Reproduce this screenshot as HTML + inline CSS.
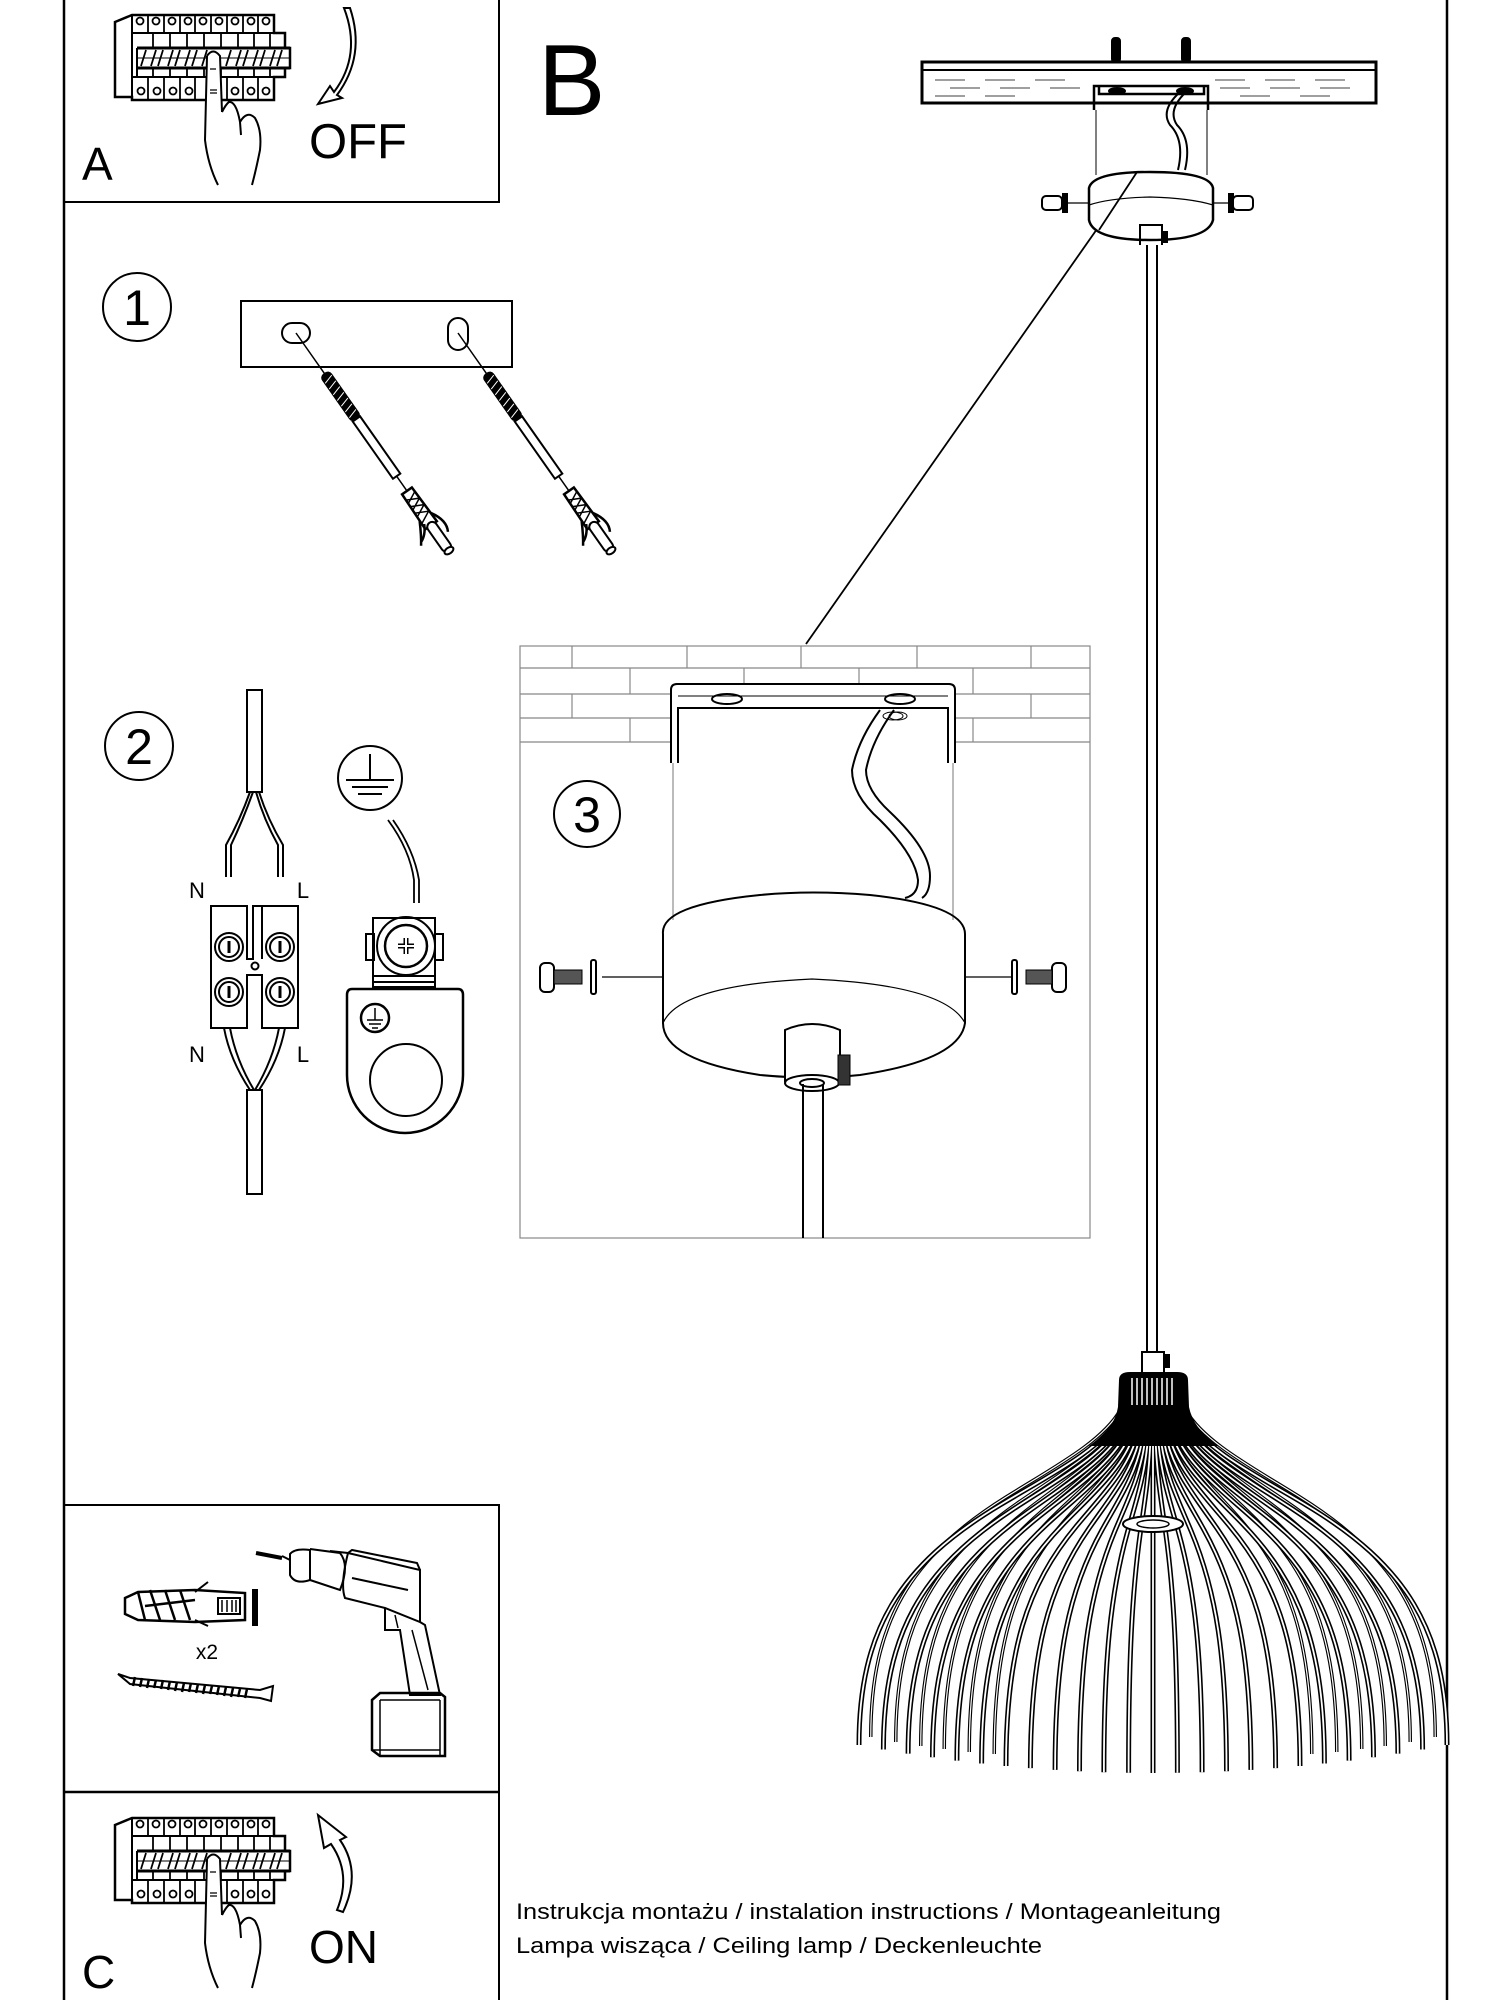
<!DOCTYPE html>
<html><head><meta charset="utf-8"><style>
html,body{margin:0;padding:0;background:#fff;}
svg{display:block;}
text{font-family:"Liberation Sans",Arial,sans-serif;fill:#000;}
</style></head><body>
<svg width="1500" height="2000" viewBox="0 0 1500 2000" xmlns="http://www.w3.org/2000/svg" fill="none" stroke="#000" stroke-width="2">
<defs>
<g id="brk">
  <path d="M115 22 L132 15 L274 15 L274 33 L285 33 L285 48 L290 48 L290 68 L285 68 L285 77 L274 77 L274 100 L132 100 L132 97 L115 97 Z" stroke-width="2.5"/>
  <line x1="132" y1="15" x2="132" y2="100"/>
  <line x1="132" y1="33" x2="274" y2="33"/>
  <line x1="132" y1="77" x2="274" y2="77"/>
  <line x1="137" y1="48" x2="290" y2="48" stroke-width="3"/>
  <line x1="137" y1="68" x2="290" y2="68" stroke-width="3"/>
  <line x1="137" y1="48" x2="137" y2="77"/>
  <g stroke-width="1.8">
   <line x1="148" y1="15" x2="148" y2="33"/><line x1="164" y1="15" x2="164" y2="33"/><line x1="180" y1="15" x2="180" y2="33"/><line x1="195" y1="15" x2="195" y2="33"/><line x1="211" y1="15" x2="211" y2="33"/><line x1="227" y1="15" x2="227" y2="33"/><line x1="243" y1="15" x2="243" y2="33"/><line x1="258" y1="15" x2="258" y2="33"/>
   <line x1="148" y1="77" x2="148" y2="100"/><line x1="164" y1="77" x2="164" y2="100"/><line x1="180" y1="77" x2="180" y2="100"/><line x1="195" y1="77" x2="195" y2="100"/><line x1="211" y1="77" x2="211" y2="100"/><line x1="227" y1="77" x2="227" y2="100"/><line x1="243" y1="77" x2="243" y2="100"/><line x1="258" y1="77" x2="258" y2="100"/>
   <line x1="153" y1="33" x2="153" y2="48"/><line x1="170" y1="33" x2="170" y2="48"/><line x1="187" y1="33" x2="187" y2="48"/><line x1="204" y1="33" x2="204" y2="48"/><line x1="221" y1="33" x2="221" y2="48"/><line x1="238" y1="33" x2="238" y2="48"/><line x1="254" y1="33" x2="254" y2="48"/><line x1="270" y1="33" x2="270" y2="48"/>
   <line x1="153" y1="68" x2="153" y2="77"/><line x1="170" y1="68" x2="170" y2="77"/><line x1="187" y1="68" x2="187" y2="77"/><line x1="204" y1="68" x2="204" y2="77"/><line x1="221" y1="68" x2="221" y2="77"/><line x1="238" y1="68" x2="238" y2="77"/><line x1="254" y1="68" x2="254" y2="77"/><line x1="270" y1="68" x2="270" y2="77"/>
   <path d="M141 66 L146 50 M151 66 L156 50 M158 66 L163 50 M168 66 L173 50 M175 66 L180 50 M185 66 L190 50 M192 66 L197 50 M202 66 L207 50 M226 66 L231 50 M236 66 L241 50 M243 66 L248 50 M253 66 L258 50 M260 66 L265 50 M270 66 L275 50 M277 66 L282 50"/>
   <line x1="137" y1="58" x2="290" y2="58" stroke-width="1"/>
  </g>
  <g stroke-width="1.8">
   <circle cx="140" cy="21" r="3.5"/><circle cx="156" cy="21" r="3.5"/><circle cx="172" cy="21" r="3.5"/><circle cx="188" cy="21" r="3.5"/><circle cx="203" cy="21" r="3.5"/><circle cx="219" cy="21" r="3.5"/><circle cx="235" cy="21" r="3.5"/><circle cx="251" cy="21" r="3.5"/><circle cx="266" cy="21" r="3.5"/>
   <circle cx="141" cy="91" r="3.5"/><circle cx="157" cy="91" r="3.5"/><circle cx="173" cy="91" r="3.5"/><circle cx="189" cy="91" r="3.5"/><circle cx="235" cy="91" r="3.5"/><circle cx="251" cy="91" r="3.5"/><circle cx="266" cy="91" r="3.5"/>
  </g>
  <path d="M207 56 L205 140 Q208 165 218 185 L252 185 Q256 170 260 150 Q262 130 255 118 Q247 110 240 122 Q236 100 228 102 L222 112 L220 56 Q213 47 207 56 Z" fill="#fff" stroke="none"/>
  <path d="M207 56 Q213 47 220 56 L222 112 M228 102 Q236 100 240 122 M240 122 Q247 110 255 118 Q262 130 260 150 Q256 170 252 185 M207 56 L205 140 Q208 165 218 185 M222 112 Q226 104 229 102 M240 122 L241 135" stroke-width="2"/>
  <path d="M210 69 L216 69 M210 90 L217 90 M210 93 L217 93" stroke-width="1.3"/>
</g>
<g id="dowel">
  <line x1="0" y1="0" x2="50" y2="0" stroke-width="1.5"/>
  <rect x="50" y="-5" width="55" height="10" rx="4" fill="#000"/>
  <path d="M55 -5 L58 5 M62 -5 L65 5 M69 -5 L72 5 M76 -5 L79 5 M83 -5 L86 5 M90 -5 L93 5 M97 -5 L100 5" stroke="#fff" stroke-width="1"/>
  <rect x="105" y="-4.5" width="70" height="9" fill="#fff" stroke-width="2"/>
  <line x1="175" y1="0" x2="193" y2="0" stroke-width="1.5"/>
  <path d="M193 -6 L235 -7 L235 7 L193 6 Z" fill="#fff" stroke-width="2.5"/>
  <path d="M198 -6 L204 6 M206 -6 L212 6 M214 -6 L220 6 M222 -6 L228 6 M200 6 L206 -6 M208 6 L214 -6 M216 6 L222 -6" stroke-width="1.5"/>
  <path d="M225 -7 Q240 -16 250 -10 M225 7 Q238 14 246 20 M230 5 Q240 10 243 18" stroke-width="2.5"/>
  <rect x="232" y="-5" width="34" height="10" rx="5" fill="#fff" stroke-width="2"/>
  <ellipse cx="266" cy="0" rx="3" ry="5" fill="#fff"/>
</g>
<path id="r" d="M1119 1418 C1100 1450 1050 1475 1000 1505 C900 1565 859 1630 859 1745" vector-effect="non-scaling-stroke"/>
<g id="ribs">
  <use href="#r" transform="translate(1153,0) scale(1,1) translate(-1153,0)"/>
  <use href="#r" transform="translate(1153,4.5) scale(0.917,1) translate(-1153,0)"/>
  <use href="#r" transform="translate(1153,8.6) scale(0.833,1) translate(-1153,0)"/>
  <use href="#r" transform="translate(1153,12.3) scale(0.75,1) translate(-1153,0)"/>
  <use href="#r" transform="translate(1153,15.6) scale(0.667,1) translate(-1153,0)"/>
  <use href="#r" transform="translate(1153,18.5) scale(0.583,1) translate(-1153,0)"/>
  <use href="#r" transform="translate(1153,21) scale(0.5,1) translate(-1153,0)"/>
  <use href="#r" transform="translate(1153,23.1) scale(0.417,1) translate(-1153,0)"/>
  <use href="#r" transform="translate(1153,24.9) scale(0.333,1) translate(-1153,0)"/>
  <use href="#r" transform="translate(1153,26.3) scale(0.25,1) translate(-1153,0)"/>
  <use href="#r" transform="translate(1153,27.2) scale(0.167,1) translate(-1153,0)"/>
  <use href="#r" transform="translate(1153,27.8) scale(0.083,1) translate(-1153,0)"/>
  <use href="#r" transform="translate(1153,4.5) scale(-0.917,1) translate(-1153,0)"/>
  <use href="#r" transform="translate(1153,0) scale(-1,1) translate(-1153,0)"/>
  <use href="#r" transform="translate(1153,8.6) scale(-0.833,1) translate(-1153,0)"/>
  <use href="#r" transform="translate(1153,12.3) scale(-0.75,1) translate(-1153,0)"/>
  <use href="#r" transform="translate(1153,15.6) scale(-0.667,1) translate(-1153,0)"/>
  <use href="#r" transform="translate(1153,18.5) scale(-0.583,1) translate(-1153,0)"/>
  <use href="#r" transform="translate(1153,21) scale(-0.5,1) translate(-1153,0)"/>
  <use href="#r" transform="translate(1153,23.1) scale(-0.417,1) translate(-1153,0)"/>
  <use href="#r" transform="translate(1153,24.9) scale(-0.333,1) translate(-1153,0)"/>
  <use href="#r" transform="translate(1153,26.3) scale(-0.25,1) translate(-1153,0)"/>
  <use href="#r" transform="translate(1153,27.2) scale(-0.167,1) translate(-1153,0)"/>
  <use href="#r" transform="translate(1153,27.8) scale(-0.083,1) translate(-1153,0)"/>
  <path d="M1153 1420 L1153 1773"/>
</g>
<g id="backribs">
  <use href="#r" transform="translate(1153,-8) scale(0.96,1) translate(-1153,0)"/>
  <use href="#r" transform="translate(1153,-3) scale(0.875,1) translate(-1153,0)"/>
  <use href="#r" transform="translate(1153,1) scale(0.79,1) translate(-1153,0)"/>
  <use href="#r" transform="translate(1153,4) scale(0.71,1) translate(-1153,0)"/>
  <use href="#r" transform="translate(1153,7) scale(0.625,1) translate(-1153,0)"/>
  <use href="#r" transform="translate(1153,9) scale(0.54,1) translate(-1153,0)"/>
  <use href="#r" transform="translate(1153,-8) scale(-0.96,1) translate(-1153,0)"/>
  <use href="#r" transform="translate(1153,-3) scale(-0.875,1) translate(-1153,0)"/>
  <use href="#r" transform="translate(1153,1) scale(-0.79,1) translate(-1153,0)"/>
  <use href="#r" transform="translate(1153,4) scale(-0.71,1) translate(-1153,0)"/>
  <use href="#r" transform="translate(1153,7) scale(-0.625,1) translate(-1153,0)"/>
  <use href="#r" transform="translate(1153,9) scale(-0.54,1) translate(-1153,0)"/>
</g>
</defs>

<line x1="64" y1="0" x2="64" y2="2000" stroke-width="2.5"/>
<line x1="1447" y1="0" x2="1447" y2="2000" stroke-width="2.5"/>
<path d="M64 202 L499 202 L499 0" stroke-width="2"/>
<path d="M64 1505 L499 1505 L499 2000" stroke-width="2"/>
<line x1="64" y1="1792" x2="499" y2="1792" stroke-width="2.5"/>

<use href="#brk"/>
<path d="M344 8 Q362 55 334 92 L330 86 L318 104 L342 98 L337 95 Q366 56 350 8 Z" fill="#fff" stroke-width="2"/>
<text x="82" y="180" font-size="46" stroke="none">A</text>
<text x="309" y="158" font-size="49" stroke="none">OFF</text>
<text x="538" y="115" font-size="101" stroke="none">B</text>

<circle cx="137" cy="307" r="34" stroke-width="2"/>
<text x="137" y="325" font-size="50" text-anchor="middle" stroke="none">1</text>
<rect x="241" y="301" width="271" height="66" stroke-width="2"/>
<rect x="282" y="323" width="28" height="20" rx="10"/>
<rect x="448" y="318" width="20" height="32" rx="10"/>
<use href="#dowel" transform="translate(296,333) rotate(54.9)"/>
<use href="#dowel" transform="translate(458,333) rotate(54.9)"/>

<circle cx="139" cy="746" r="34" stroke-width="2"/>
<text x="139" y="764" font-size="50" text-anchor="middle" stroke="none">2</text>
<rect x="247" y="690" width="15" height="102" stroke-width="2"/>
<path d="M250 792 Q240 820 226 845 L226 877 M259 792 Q268 820 283 845 L283 877 M253 792 Q243 820 231 845 L231 877 M256 792 Q264 820 278 845 L278 877" stroke-width="2"/>
<text x="197" y="898" font-size="22" text-anchor="middle" stroke="none">N</text>
<text x="303" y="898" font-size="22" text-anchor="middle" stroke="none">L</text>
<path d="M211 906 L247 906 L247 959 L253 959 L253 906 L298 906 L298 1028 L262 1028 L262 975 L247 975 L247 1028 L211 1028 Z" stroke-width="2"/>
<line x1="247" y1="906" x2="247" y2="959"/><line x1="262" y1="906" x2="262" y2="959"/>
<circle cx="255" cy="966" r="3.5"/>
<g stroke-width="2">
<circle cx="229" cy="947" r="14"/><circle cx="229" cy="947" r="10"/><line x1="229" y1="941" x2="229" y2="953" stroke-width="3"/>
<circle cx="280" cy="947" r="14"/><circle cx="280" cy="947" r="10"/><line x1="280" y1="941" x2="280" y2="953" stroke-width="3"/>
<circle cx="229" cy="992" r="14"/><circle cx="229" cy="992" r="10"/><line x1="229" y1="986" x2="229" y2="998" stroke-width="3"/>
<circle cx="280" cy="992" r="14"/><circle cx="280" cy="992" r="10"/><line x1="280" y1="986" x2="280" y2="998" stroke-width="3"/>
</g>
<text x="197" y="1062" font-size="22" text-anchor="middle" stroke="none">N</text>
<text x="303" y="1062" font-size="22" text-anchor="middle" stroke="none">L</text>
<path d="M224 1028 Q230 1060 250 1090 M230 1028 Q236 1060 254 1090 M285 1028 Q279 1060 259 1090 M279 1028 Q273 1060 255 1090" stroke-width="2"/>
<rect x="247" y="1090" width="15" height="104" stroke-width="2"/>

<circle cx="370" cy="778" r="32" stroke-width="2"/>
<path d="M370 754 L370 780 M346 780 L394 780 M352 787 L388 787 M358 794 L382 794" stroke-width="2"/>
<path d="M388 820 Q410 850 414 880 L414 903 M393 820 Q414 850 419 880 L419 903" stroke-width="1.8"/>
<rect x="373" y="918" width="62" height="69" stroke-width="2"/>
<rect x="366" y="934" width="8" height="26"/><rect x="435" y="934" width="8" height="26"/>
<circle cx="406" cy="946" r="29"/><circle cx="406" cy="946" r="21" stroke-width="2.5"/>
<path d="M398 946 L414 946 M406 938 L406 954" stroke-width="5"/>
<path d="M398 946 L414 946 M406 938 L406 954" stroke="#fff" stroke-width="2"/>
<path d="M373 976 L435 976 M373 982 L435 982" stroke-width="2"/>
<path d="M352 989 L458 989 Q463 989 463 995 L463 1075 A58 58 0 0 1 347 1075 L347 995 Q347 989 352 989 Z" stroke-width="2.5"/>
<circle cx="406" cy="1080" r="36" stroke-width="2"/>
<circle cx="375" cy="1018" r="14" stroke-width="2.5"/>
<path d="M375 1008 L375 1020 M367 1020 L383 1020 M369 1024 L381 1024 M372 1028 L378 1028" stroke-width="1.5"/>

<g stroke="#888" stroke-width="1.2">
<rect x="520" y="646" width="570" height="592"/>
<line x1="520" y1="742" x2="1090" y2="742"/>
<line x1="520" y1="668" x2="1090" y2="668"/><line x1="520" y1="694" x2="1090" y2="694"/><line x1="520" y1="718" x2="1090" y2="718"/>
<path d="M572 646 V668 M687 646 V668 M801 646 V668 M917 646 V668 M1031 646 V668 M630 668 V694 M744 668 V694 M859 668 V694 M973 668 V694 M572 694 V718 M687 694 V718 M801 694 V718 M917 694 V718 M1031 694 V718 M630 718 V742 M744 718 V742 M859 718 V742 M973 718 V742"/>
</g>
<line x1="806" y1="644" x2="1137" y2="172" stroke-width="1.8"/>
<path d="M671 763 L671 690 Q671 684 677 684 L949 684 Q955 684 955 690 L955 763 M678 763 L678 708 L948 708 L948 763" stroke-width="2" fill="#fff"/>
<line x1="678" y1="696" x2="948" y2="696" stroke-width="1"/>
<ellipse cx="727" cy="699" rx="15" ry="5"/><ellipse cx="900" cy="699" rx="15" ry="5"/>
<ellipse cx="893" cy="716" rx="10" ry="4" stroke-width="1"/><ellipse cx="898" cy="716" rx="9" ry="4" stroke-width="1"/>
<line x1="673" y1="763" x2="673" y2="920" stroke="#777" stroke-width="1"/>
<line x1="953" y1="763" x2="953" y2="920" stroke="#777" stroke-width="1"/>
<circle cx="587" cy="814" r="33" stroke-width="2"/>
<text x="587" y="832" font-size="50" text-anchor="middle" stroke="none">3</text>
<path d="M880 710 Q858 740 852 770 Q852 795 880 820 Q915 855 918 880 Q918 895 905 898 M894 710 Q872 740 866 770 Q866 790 890 812 Q930 850 930 876 Q930 893 922 898" stroke-width="2"/>
<path d="M663 975 L663 934 Q660 905 760 895 Q812 890 870 895 Q965 905 965 934 L965 1023 Q960 1060 860 1075 Q812 1080 760 1075 Q663 1060 663 1023 Z" stroke-width="2" fill="none"/>
<path d="M663 1023 Q680 985 812 979 Q945 985 965 1023" stroke-width="1.2"/>
<line x1="602" y1="977" x2="663" y2="977" stroke-width="1.3"/><line x1="965" y1="977" x2="1012" y2="977" stroke-width="1.3"/>
<rect x="540" y="963" width="14" height="29" rx="5" stroke-width="2"/>
<rect x="554" y="970" width="28" height="14" fill="#555" stroke-width="1"/>
<rect x="591" y="960" width="5" height="34" rx="2" stroke-width="2"/>
<rect x="1052" y="963" width="14" height="29" rx="5" stroke-width="2"/>
<rect x="1026" y="970" width="26" height="14" fill="#555" stroke-width="1"/>
<rect x="1012" y="960" width="5" height="34" rx="2" stroke-width="2"/>
<path d="M785 1082 L785 1030 Q812 1018 840 1030 L840 1082" stroke-width="2" fill="#fff"/>
<ellipse cx="812" cy="1083" rx="27" ry="8" fill="#fff"/>
<ellipse cx="812" cy="1083" rx="12" ry="4"/>
<rect x="838" y="1055" width="12" height="30" fill="#333" stroke-width="1"/>
<line x1="803" y1="1084" x2="803" y2="1238" stroke-width="2"/>
<line x1="823" y1="1084" x2="823" y2="1238" stroke-width="2"/>

<rect x="922" y="62" width="454" height="41" stroke-width="3"/>
<line x1="922" y1="70" x2="1376" y2="70" stroke-width="2"/>
<g stroke="#666" stroke-width="1.2">
<path d="M935 80 H965 M985 80 H1015 M1035 80 H1065 M1215 80 H1245 M1265 80 H1295 M1315 80 H1345 M950 88 H980 M1000 88 H1030 M1050 88 H1080 M1220 88 H1250 M1270 88 H1300 M1320 88 H1350 M935 96 H965 M985 96 H1015 M1240 96 H1270 M1300 96 H1330"/>
</g>
<rect x="1112" y="38" width="8" height="24" rx="3" fill="#000"/>
<rect x="1182" y="38" width="8" height="24" rx="3" fill="#000"/>
<path d="M1094 110 L1094 86 L1208 86 L1208 110 M1099 86 L1099 94 L1204 94 L1204 86" stroke-width="2.5"/>
<ellipse cx="1117" cy="91" rx="8" ry="3" fill="#000"/><ellipse cx="1185" cy="91" rx="8" ry="3" fill="#000"/>
<line x1="1096" y1="110" x2="1096" y2="175" stroke-width="1"/><line x1="1207" y1="110" x2="1207" y2="175" stroke-width="1"/>
<path d="M1180 92 Q1160 110 1170 125 Q1185 140 1178 170 M1186 92 Q1167 110 1177 125 Q1192 140 1185 170" stroke-width="2"/>
<path d="M1089 220 L1089 188 Q1093 172 1150 172 Q1210 172 1213 188 L1213 220 Q1208 240 1150 240 Q1093 240 1089 220 Z" stroke-width="2.5" fill="#fff"/>
<path d="M1089 205 Q1110 198 1150 197 Q1190 198 1213 205" stroke-width="1.2"/>
<line x1="1099" y1="230" x2="1137" y2="172" stroke-width="1.8"/>
<line x1="1067" y1="203" x2="1089" y2="203" stroke-width="1.2"/><line x1="1213" y1="203" x2="1230" y2="203" stroke-width="1.2"/>
<rect x="1042" y="196" width="20" height="14" rx="4" stroke-width="2"/><rect x="1063" y="194" width="4" height="18" fill="#000"/>
<rect x="1233" y="196" width="20" height="14" rx="4" stroke-width="2"/><rect x="1229" y="194" width="4" height="18" fill="#000"/>
<path d="M1140 245 L1140 225 L1162 225 L1162 245" stroke-width="2"/>
<rect x="1162" y="232" width="5" height="10" fill="#000"/>
<line x1="1147" y1="245" x2="1147" y2="1352" stroke-width="2"/>
<line x1="1157" y1="245" x2="1157" y2="1352" stroke-width="2"/>
<rect x="1142" y="1352" width="22" height="21" stroke-width="2"/>
<rect x="1164" y="1355" width="5" height="12" fill="#000"/>

<use href="#backribs" stroke="#000" stroke-width="3.5"/>
<use href="#backribs" stroke="#fff" stroke-width="1.2"/>
<use href="#ribs" stroke="#000" stroke-width="5"/>
<use href="#ribs" stroke="#fff" stroke-width="1.8"/>
<path d="M1120 1380 Q1120 1373 1130 1373 L1177 1373 Q1187 1373 1187 1380 L1188 1407 Q1192 1428 1215 1445 L1092 1445 Q1116 1428 1119 1407 Z" fill="#000"/>
<path d="M1132 1378 V1405 M1137 1378 V1405 M1142 1378 V1405 M1147 1378 V1405 M1152 1378 V1405 M1157 1378 V1405 M1162 1378 V1405 M1167 1378 V1405 M1172 1378 V1405" stroke="#fff" stroke-width="1.5"/>
<ellipse cx="1153" cy="1524" rx="30" ry="8" fill="#fff" stroke-width="2"/>
<ellipse cx="1153" cy="1524" rx="16" ry="4" stroke-width="1.5"/>

<path d="M125 1598 L138 1592 L195 1590 L245 1593 L245 1620 L195 1622 L138 1620 L125 1614 Z" stroke-width="2.5"/>
<path d="M138 1592 L145 1620 M150 1590 L160 1620 M165 1590 L175 1620 M180 1590 L190 1620 M145 1606 L195 1600" stroke-width="2.5"/>
<path d="M195 1592 L208 1582 M195 1620 L208 1626" stroke-width="2"/>
<rect x="218" y="1598" width="22" height="16" stroke-width="2"/>
<path d="M222 1600 V1612 M227 1600 V1612 M232 1600 V1612 M236 1600 V1612" stroke-width="1.5"/>
<rect x="253" y="1590" width="4" height="35" fill="#000"/>
<text x="207" y="1659" font-size="21" text-anchor="middle" stroke="none">x2</text>
<path d="M118 1674 L130 1678 L260 1690 L273 1686 L271 1701 L260 1698 L130 1684 Z" stroke-width="2"/>
<path d="M135 1677 L133 1686 M142 1678 L140 1687 M149 1679 L147 1688 M156 1680 L154 1688 M163 1680 L161 1689 M170 1681 L168 1690 M177 1682 L175 1691 M184 1683 L182 1692 M191 1683 L189 1692 M198 1684 L196 1693 M205 1685 L203 1694 M212 1686 L210 1694 M219 1686 L217 1695 M226 1687 L224 1696 M233 1688 L231 1697 M240 1689 L238 1697 M247 1689 L245 1698" stroke-width="2.5"/>
<path d="M256 1553 L282 1558" stroke-width="4"/>
<path d="M282 1556 L290 1560" stroke-width="2"/>
<path d="M290 1554 Q295 1548 310 1550 L310 1580 Q295 1585 290 1575 Z" stroke-width="2"/>
<path d="M310 1549 L340 1553 Q350 1565 340 1590 L310 1580" stroke-width="2"/>
<path d="M330 1551 L348 1553 L420 1570 L420 1622 L385 1608 L345 1598 Q340 1585 348 1553" stroke-width="2"/>
<path d="M348 1553 L352 1550 L417 1563 L420 1570 M352 1578 L408 1590" stroke-width="2"/>
<path d="M385 1608 L385 1630 L400 1630 L410 1695 L440 1695 L425 1625 L420 1622" stroke-width="2"/>
<path d="M395 1615 L398 1628 M412 1630 L428 1690" stroke-width="1.5"/>
<path d="M372 1700 L380 1693 L440 1693 L445 1697 L445 1756 L380 1756 L372 1750 Z" stroke-width="2.5"/>
<path d="M380 1700 L440 1700 M380 1700 L380 1756 M440 1700 L440 1756 M372 1750 L440 1750" stroke-width="1.5"/>

<use href="#brk" transform="translate(0,1803)"/>
<path d="M343 1912 Q362 1872 340 1840 L346 1837 L318 1815 L324 1848 L331 1844 Q352 1874 337 1910 Z" fill="#fff" stroke-width="2"/>
<text x="82" y="1988" font-size="46" stroke="none">C</text>
<text x="309" y="1963" font-size="46" stroke="none">ON</text>

<text x="516" y="1919" font-size="22" stroke="none" textLength="705" lengthAdjust="spacingAndGlyphs">Instrukcja montażu / instalation instructions / Montageanleitung</text>
<text x="516" y="1953" font-size="22" stroke="none" textLength="526" lengthAdjust="spacingAndGlyphs">Lampa wisząca / Ceiling lamp  / Deckenleuchte</text>
</svg>
</body></html>
